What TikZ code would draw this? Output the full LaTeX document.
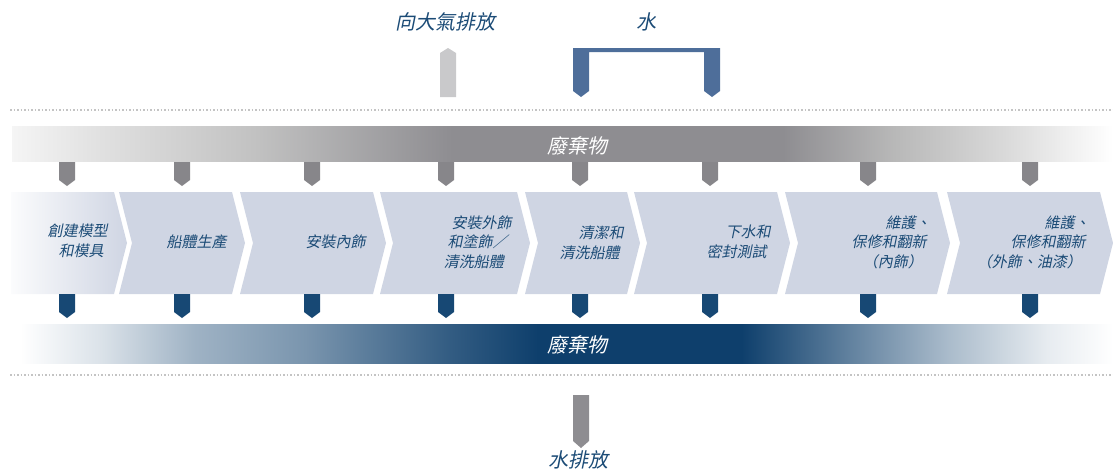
\documentclass[tikz,border=0pt]{standalone}
\usepackage{fontspec}
\newfontfamily\cjk{Noto Sans CJK TC}
\usetikzlibrary{positioning}

\definecolor{textblue}{HTML}{1B4B76}
\definecolor{stepfill}{HTML}{CFD5E3}
\definecolor{wastegrey}{HTML}{8E8D91}
\definecolor{tabgrey}{HTML}{87868A}
\definecolor{wasteblue}{HTML}{0E3F6C}
\definecolor{tabblue}{HTML}{174874}
\definecolor{waterblue}{HTML}{4E6E9A}
\definecolor{airgrey}{HTML}{C9C9CB}
\definecolor{dotgrey}{HTML}{C4C4C4}

% bars: path box runs from 25bp to 75bp
\pgfdeclarehorizontalshading{greybar}{100bp}{color(0bp)=(white!96!black); color(25bp)=(white!96!black);
  color(29bp)=(white!88!black); color(36bp)=(white!76!black); color(45bp)=(wastegrey);
  color(60bp)=(wastegrey); color(65bp)=(white!72!black); color(70bp)=(white!85!black);
  color(75bp)=(white); color(100bp)=(white)}
\pgfdeclarehorizontalshading{bluebar}{100bp}{color(0bp)=(white); color(25bp)=(white);
  color(28.7bp)=(wasteblue!15); color(33bp)=(wasteblue!40); color(38bp)=(wasteblue!55);
  color(44.7bp)=(wasteblue!85); color(48.7bp)=(wasteblue); color(58bp)=(wasteblue);
  color(63bp)=(wasteblue!65); color(67.5bp)=(wasteblue!35); color(72bp)=(wasteblue!10);
  color(75bp)=(white); color(100bp)=(white)}

\tikzset{
  slanted/.style={xslant=0.2, transform shape},
  steptext/.style={font=\cjk\fontsize{15}{19.5}\selectfont, text=textblue, align=right, inner sep=0pt, slanted},
  bigtext/.style={font=\cjk\fontsize{20}{24}\selectfont, text=textblue, inner sep=0pt, slanted},
  bartext/.style={font=\cjk\fontsize{20}{24}\selectfont, text=white, inner sep=0pt, slanted},
}

\begin{document}
\begin{tikzpicture}[x=1pt,y=-1pt]
  \useasboundingbox (0,0) rectangle (1113,471);

  % labels above
  \node[shift={(447,22)}, bigtext] (air) at (0,0) {向大氣排放};
  \node[shift={(648,22)}, bigtext] (water) at (0,0) {水};

  % emission and water in
  \fill[airgrey] (440,97) -- (440,53) -- (448,48) -- (456,53) -- (456,97) -- cycle;
  \fill[waterblue] (573,48) -- (720,48) -- (720,91) -- (712,97) -- (704,91)
    -- (704,52) -- (589,52) -- (589,91) -- (581,97) -- (573,91) -- cycle;

  \draw[dotgrey, line width=1.5pt, dotted] (10,110) -- (1113,110);
  \draw[dotgrey, line width=1.5pt, dotted] (10,375) -- (1113,375);

  % waste bars
  \node[shading=greybar, minimum width=1101pt, minimum height=35pt, inner sep=0pt] (topbar) at (562.5,143.5) {};
  \node[shift={(579,146)}, bartext] (wastetop) at (0,0) {廢棄物};
  \node[shading=bluebar, minimum width=1093pt, minimum height=39pt, inner sep=0pt] (botbar) at (566.5,343.5) {};
  \node[shift={(579,345)}, bartext] (wastebot) at (0,0) {廢棄物};

  % steps
  \shade[left color=white!92!stepfill, right color=stepfill]
    (11,192) -- (114,192) -- (127,243) -- (114,294) -- (11,294) -- cycle;
  \foreach \l/\r in {119/232, 240/373, 380/517, 525/627, 634/777, 785/937, 947/1100}
    \fill[stepfill] (\l,192) -- (\r,192) -- (\r+13,243) -- (\r,294) -- (\l,294) -- (\l+13,243) -- cycle;

  \node[shift={(107,241)}, steptext, anchor=east] (s1) at (0,0) {創建模型\\和模具};
  \node[shift={(228,242)}, steptext, anchor=east] (s2) at (0,0) {船體生產};
  \node[shift={(367,242)}, steptext, anchor=east] (s3) at (0,0) {安裝內飾};
  \node[shift={(509,242)}, steptext, anchor=east] (s4) at (0,0) {安裝外飾\\和塗飾／\\清洗船體};
  \node[shift={(623,243)}, steptext, anchor=east] (s5) at (0,0) {清潔和\\清洗船體};
  \node[shift={(770,242)}, steptext, anchor=east] (s6) at (0,0) {下水和\\密封測試};
  \node[shift={(928,242)}, steptext, anchor=east] (s7) at (0,0) {維護、\\保修和翻新\\（內飾）};
  \node[shift={(1087,242)}, steptext, anchor=east] (s8) at (0,0) {維護、\\保修和翻新\\（外飾、油漆）};

  % tabs between bars and steps
  \foreach \x in {67,182,312,446,580,710,868,1030} {
    \fill[tabgrey] (\x-8,162) -- (\x+8,162) -- (\x+8,180) -- (\x,186) -- (\x-8,180) -- cycle;
    \fill[tabblue] (\x-8,294) -- (\x+8,294) -- (\x+8,312) -- (\x,318) -- (\x-8,312) -- cycle;
  }

  % water out
  \fill[wastegrey] (573,395) -- (589,395) -- (589,441) -- (581,448) -- (573,441) -- cycle;
  \node[shift={(580,460)}, bigtext] (drain) at (0,0) {水排放};
\end{tikzpicture}
\end{document}
